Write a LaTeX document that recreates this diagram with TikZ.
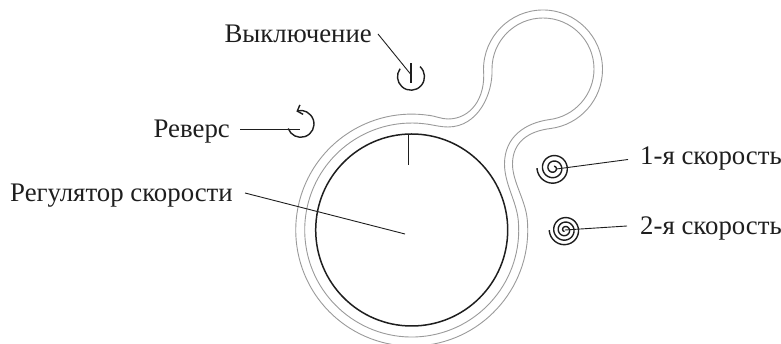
\documentclass[tikz,border=0pt]{standalone}
\usepackage{fontspec}
\setmainfont{Liberation Serif}
\usetikzlibrary{arrows.meta}
\definecolor{rshell}{HTML}{9A9A9A}
\definecolor{rline}{HTML}{1E1E1E}
\tikzset{
  shell/.style={rshell, line width=0.9pt},
  leader/.style={rline, line width=0.9pt},
  icon/.style={rline, line width=1.4pt},
  lbl/.style={font=\fontsize{26.8}{30}\selectfont, inner sep=0pt, text=rline},
}
\newcommand{\spiralat}[3]{% centre, pitch, turns
  \draw[icon, shift={(#1)}] plot[domain=0.3:#3, samples=180]
    ({#2*\x*cos(180+360*(#3-\x))},{#2*\x*sin(180+360*(#3-\x))});
}

\begin{document}
\begin{tikzpicture}[x=1pt, y=1pt]
  \useasboundingbox (0,0) rectangle (781,344);
  \coordinate (C)  at (411.7,114);   % centre of the dial
  \coordinate (power)   at (411,267.3);
  \coordinate (powerEnd) at (410.5,270);
  \coordinate (rev)     at (300.7,220);
  \coordinate (revEnd)  at (300,215);
  \coordinate (dialEnd) at (405,110);
  \coordinate (spiralA) at (553.5,176);
  \coordinate (spiralAEnd) at (556.5,175);
  \coordinate (spiralB) at (565,114);

  % double outline of the body
  \draw[shell] (429.8,228.6) .. controls (436,227.6) and (442,225) .. (448,225)
     .. controls (470,225) and (486,245) .. (483.5,274.5)
     arc[start angle=180, end angle=-83, radius=59.5]
     .. controls (530,213) and (512.5,203) .. (512.5,180)
     .. controls (512.5,162) and (525.6,144) .. (527.3,124)
     arc[start angle=5, end angle=-279, radius=116] -- cycle;
  \draw[shell] (428.4,219.7) .. controls (434.5,218.7) and (441,217) .. (448,217)
     .. controls (478,217) and (493,250) .. (492,275)
     arc[start angle=180, end angle=-83, radius=51]
     .. controls (525,221) and (504.5,207) .. (504.5,180)
     .. controls (504.5,160) and (516.5,143) .. (518.3,123.3)
     arc[start angle=5, end angle=-279, radius=107] -- cycle;

  % speed dial and its mark
  \draw[rline, line width=1.5pt] (C) circle (96);
  \draw[icon] (408.7,210) -- (408.7,179);

  % labels
  \node[lbl, anchor=east] (lblOff) at (372,310) {Выключение};
  \node[lbl, anchor=east] (lblRev) at (230,212) {Реверс};
  \node[lbl, anchor=east] (lblReg) at (233,148) {Регулятор скорости};
  \node[lbl, anchor=west] (lblOne) at (640,185.5) {1-я скорость};
  \node[lbl, anchor=west] (lblTwo) at (640,116) {2-я скорость};

  % icons
  \draw[icon] ([shift={(48:13.5)}]power) arc[start angle=48, end angle=-216, radius=13.5];
  \draw[icon] (411,280.7) -- (411,260.7);
  \draw[icon, {Straight Barb[length=4.5pt, width=10pt]}-]
     ([shift={(109:13.3)}]rev) arc[start angle=109, end angle=-160, radius=13.3];
  \spiralat{spiralA}{5.5}{3}
  \spiralat{spiralB}{4.5}{3.5}

  % leaders
  \draw[leader] ([xshift=6pt]lblOff.east) -- (powerEnd);
  \draw[leader] ([xshift=10pt,yshift=3pt]lblRev.east) -- (revEnd);
  \draw[leader] ([xshift=12pt,yshift=3pt]lblReg.east) -- (dialEnd);
  \draw[leader] ([xshift=-12pt,yshift=-1pt]lblOne.west) -- (spiralAEnd);
  \draw[leader] ([xshift=-13pt,yshift=2pt]lblTwo.west) -- (spiralB);
\end{tikzpicture}
\end{document}
